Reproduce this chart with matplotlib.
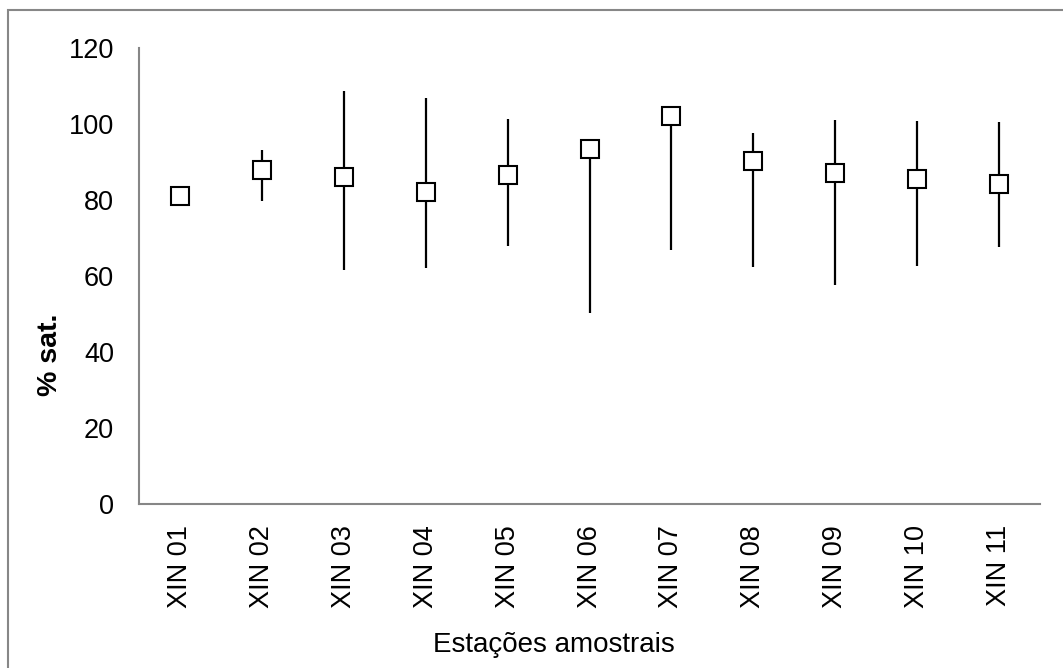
import matplotlib
matplotlib.use("Agg")
import matplotlib.pyplot as plt
from matplotlib.patches import Rectangle

plt.rcParams['font.family'] = ['Liberation Sans', 'DejaVu Sans']

stations = ["XIN 01", "XIN 02", "XIN 03", "XIN 04", "XIN 05", "XIN 06",
            "XIN 07", "XIN 08", "XIN 09", "XIN 10", "XIN 11"]
mean_sat = [81.0, 88.0, 86.0, 82.0, 86.5, 93.5, 102.2, 90.2, 87.0, 85.5, 84.1]
max_sat = [81.0, 93.1, 108.7, 106.8, 101.3, 93.5, 102.2, 97.5, 101.0, 100.8, 100.5]
min_sat = [81.0, 79.8, 61.6, 62.1, 67.9, 50.2, 66.8, 62.3, 57.6, 62.6, 67.6]
y_ticks = [0, 20, 40, 60, 80, 100, 120]

W, H = 1063, 668
fig = plt.figure(figsize=(W / 100, H / 100), dpi=100)
ax = fig.add_axes([139 / W, 1 - 504 / H, (1040 - 139) / W, (504 - 48) / H])

x = list(range(len(stations)))
ax.vlines(x, min_sat, max_sat, color="black", linewidth=1.6, zorder=2)
ax.plot(x, mean_sat, linestyle="none", marker="s", markersize=13.5,
        markerfacecolor="white", markeredgecolor="black", markeredgewidth=1.5,
        zorder=3)

ax.set_xlim(-0.5, len(stations) - 0.5)
ax.set_ylim(0, 120)
ax.set_yticks(y_ticks)
ax.set_xticks(x)
ax.set_xticklabels(stations, rotation=90, fontsize=19.5)
ax.tick_params(axis="y", length=0, pad=18, labelsize=19.5)
ax.tick_params(axis="x", length=0, pad=15)

for side in ("top", "right"):
    ax.spines[side].set_visible(False)
for side in ("left", "bottom"):
    ax.spines[side].set_color("#868686")
    ax.spines[side].set_linewidth(1.5)

fig.text(50 / W, 1 - 355 / H, "% sat.", rotation=90, fontsize=20.5,
         fontweight="bold", ha="center", va="center")
fig.text(554 / W, 1 - 645 / H, "Estações amostrais", fontsize=20,
         ha="center", va="center")

# outer chart-area border
fig.patches.append(Rectangle((8 / W, -0.05), 1.1, 1 - 10 / H + 0.05,
                             transform=fig.transFigure, fill=False,
                             edgecolor="#878787", linewidth=1.5))

fig.savefig("out.png", dpi=100)
